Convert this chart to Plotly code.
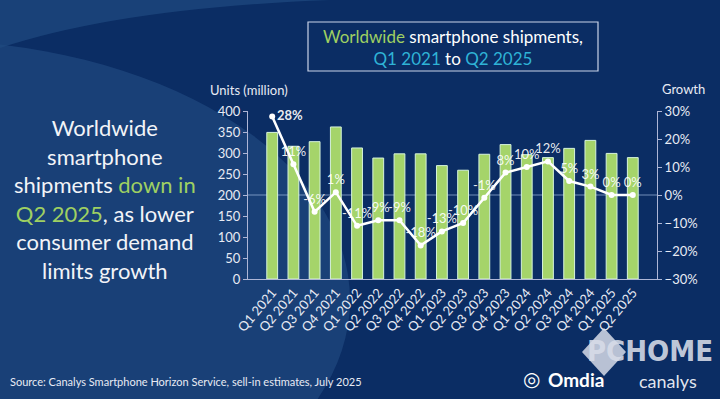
import plotly.graph_objects as go

quarters = ["Q1 2021", "Q2 2021", "Q3 2021", "Q4 2021", "Q1 2022", "Q2 2022",
            "Q3 2022", "Q4 2022", "Q1 2023", "Q2 2023", "Q3 2023", "Q4 2023",
            "Q1 2024", "Q2 2024", "Q3 2024", "Q4 2024", "Q1 2025", "Q2 2025"]
units_million = [349, 316, 327, 362, 312, 288, 298, 298, 270, 259, 297, 320,
                 296, 289, 311, 330, 299, 289]
growth_pct = [28, 11, -6, 1, -11, -9, -9, -18, -13, -10, -1, 8, 10, 12, 5, 3, 0, 0]
growth_labels = [f"{g}%" for g in growth_pct]
growth_labels[0] = "<b>28%</b>"

W, H = 720, 399
L, R, T, B = 248, 63, 111, 120
PW, PH = W - L - R, H - T - B
FONT = "Lato"


def px(x):
    return (x - L) / PW


def py(y):
    return (H - B - y) / PH


fig = go.Figure()

fig.add_trace(go.Bar(
    x=quarters, y=units_million, name="Units",
    marker=dict(color="#a5d46a", line=dict(color="#d6f3dc", width=1)),
    yaxis="y", hoverinfo="x+y",
))

positions = ["top center"] * len(growth_pct)
positions[0] = "middle right"
fig.add_trace(go.Scatter(
    x=quarters, y=growth_pct, name="Growth", yaxis="y2",
    mode="lines+markers+text",
    line=dict(color="white", width=2.5),
    marker=dict(color="white", size=6),
    text=growth_labels, textposition=positions,
    textfont=dict(color="rgba(255,255,255,0.92)", size=13, family=FONT),
    cliponaxis=False,
))

axis_col = "#aeb6d6"
tick_font = dict(color="#e8ebf4", size=13, family=FONT)

shapes = []


def ellipse(cx, cy, rx, ry, color, opacity):
    return dict(type="circle", xref="paper", yref="paper",
                x0=px(cx - rx), x1=px(cx + rx), y0=py(cy + ry), y1=py(cy - ry),
                fillcolor=color, opacity=opacity, line=dict(width=0), layer="below")


# background swooshes
shapes.append(ellipse(-80, 300, 430, 260, "#1f477d", 0.75))
shapes.append(dict(type="path", xref="paper", yref="paper",
                   path=(f"M {px(0)},{py(0)} L {px(0)},{py(48)} "
                         f"Q {px(120)},{py(8)} {px(330)},{py(0)} Z"),
                   fillcolor="#1f4a80", opacity=0.7, line=dict(width=0), layer="below"))
# 200 / 0% reference line
shapes.append(dict(type="line", xref="paper", yref="y", x0=0, x1=1, y0=200, y1=200,
                   line=dict(color="rgba(170,195,230,0.65)", width=1), layer="below"))
# title box
shapes.append(dict(type="rect", xref="paper", yref="paper",
                   x0=px(308), x1=px(598), y0=py(71), y1=py(22),
                   line=dict(color="#c9d3e8", width=1.2), fillcolor="rgba(0,0,0,0)"))
# watermark diamond behind "PC"
shapes.append(dict(type="path", xref="paper", yref="paper",
                   path=(f"M {px(582)},{py(352)} L {px(604)},{py(328)} "
                         f"L {px(626)},{py(352)} L {px(604)},{py(376)} Z"),
                   fillcolor="rgba(215,220,232,0.85)", line=dict(width=0)))

annotations = []


def ann(x, y, text, size, color="white", xanchor="center", yanchor="middle", family=FONT):
    annotations.append(dict(x=px(x), y=py(y), xref="paper", yref="paper", text=text,
                            showarrow=False, xanchor=xanchor, yanchor=yanchor, align="center",
                            font=dict(size=size, color=color, family=family)))


green = "#9fd062"
cyan = "#2fb3d6"
ann(453, 47,
    f"<span style='color:{green}'>Worldwide</span> smartphone shipments,<br>"
    f"<span style='color:{cyan}'>Q1 2021</span> to <span style='color:{cyan}'>Q2 2025</span>",
    17)
ann(105, 199,
    "Worldwide<br>smartphone<br>shipments "
    f"<span style='color:{green}'>down in</span><br>"
    f"<span style='color:{green}'>Q2 2025</span>, as lower<br>consumer demand<br>limits growth",
    22, color="#f2f4f8")
ann(249, 90, "Units (million)", 13, color="#e8ebf4")
ann(683, 89, "Growth", 13, color="#e8ebf4")
ann(8, 381, "Source: Canalys Smartphone Horizon Service, sell-in estimates, July 2025",
    11, color="#e8ebf4", xanchor="left")
ann(650, 351, "<b>PCHOME</b>", 29, color="rgba(215,220,232,0.9)", family="DejaVu Sans Condensed")
ann(576, 379, "<b>Omdia</b>", 19, color="white")
ann(668, 381, "canalys", 18, color="rgba(240,242,248,0.95)")
ann(531, 379, "◎", 20, color="white", family="DejaVu Sans")

fig.update_layout(
    width=W, height=H, autosize=False,
    margin=dict(l=L, r=R, t=T, b=B, pad=0),
    paper_bgcolor="#0b2d64", plot_bgcolor="rgba(0,0,0,0)",
    showlegend=False, bargap=0.49,
    font=dict(family=FONT, color="white"),
    xaxis=dict(type="category", tickangle=-50, automargin=False,
               tickfont=dict(color="#e8ebf4", size=13, family=FONT),
               showline=True, linecolor=axis_col, linewidth=1, ticks="", showgrid=False,
               zeroline=False),
    yaxis=dict(range=[0, 400], dtick=50, showgrid=False, zeroline=False, showline=True,
               automargin=False,
               linecolor=axis_col, linewidth=1, ticks="outside", ticklen=4, tickcolor=axis_col,
               tickfont=tick_font),
    yaxis2=dict(range=[-30, 30], dtick=10, ticksuffix="%", overlaying="y", side="right",
                automargin=False,
                showgrid=False, zeroline=False, showline=True, linecolor=axis_col, linewidth=1,
                ticks="outside", ticklen=4, tickcolor=axis_col, tickfont=tick_font),
    shapes=shapes, annotations=annotations,
)

fig.write_html("out.html", config={"displayModeBar": False},
               post_script="document.body.style.margin='0';document.body.style.background='#0b2d64';")
